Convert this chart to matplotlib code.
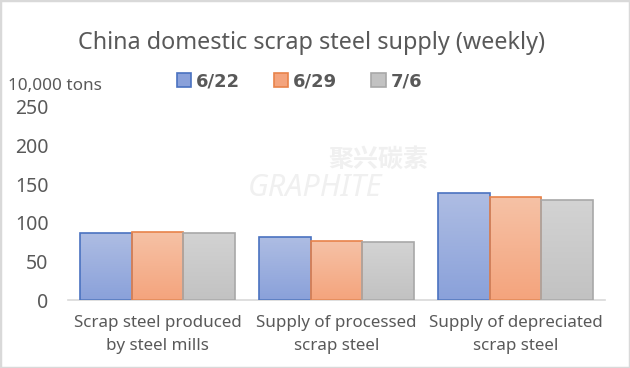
import numpy as np
import matplotlib.pyplot as plt
from matplotlib.colors import LinearSegmentedColormap
from matplotlib.patches import Rectangle

# chart data (10,000 tons)
categories = ["Scrap steel produced\nby steel mills",
              "Supply of processed\nscrap steel",
              "Supply of depreciated\nscrap steel"]
weeks = ["6/22", "6/29", "7/6"]
supply_0622 = [87, 82, 139]
supply_0629 = [88.5, 77, 134]
supply_0706 = [87, 75, 130]
series = [supply_0622, supply_0629, supply_0706]

# gradient colours (top, bottom) and edge colour per series
fills = [("#aebde3", "#8aa1da"), ("#f6c2a6", "#f4a47d"), ("#d3d3d3", "#c2c2c2")]
edges = ["#4a72c0", "#e8834a", "#a8a8a8"]

plt.rcParams['font.family'] = ['Noto Sans', 'DejaVu Sans']
text_grey = "#595959"

fig = plt.figure(figsize=(6.3, 3.68), dpi=100)
ax = fig.add_axes([68 / 630, 1 - 300 / 368, (605 - 68) / 630, (300 - 107) / 368])

x = np.arange(len(categories))
width = 0.288
grad = np.linspace(0, 1, 100).reshape(-1, 1)
for i, vals in enumerate(series):
    pos = x + (i - 1) * width
    bars = ax.bar(pos, vals, width, facecolor="none", edgecolor=edges[i],
                  linewidth=1.2, label=weeks[i], zorder=3)
    cmap = LinearSegmentedColormap.from_list("g%d" % i, [fills[i][1], fills[i][0]])
    for b in bars:
        bx, by = b.get_x(), b.get_y()
        bw, bh = b.get_width(), b.get_height()
        im = ax.imshow(grad, cmap=cmap, origin="lower", aspect="auto",
                       extent=(bx, bx + bw, by, by + bh), zorder=2)
        im.set_clip_path(b)

ax.set_xlim(-0.5, len(categories) - 0.5)
ax.set_ylim(0, 250)
ax.set_yticks([0, 50, 100, 150, 200, 250])
ax.set_xticks(x)
ax.set_xticklabels(categories, fontsize=12.2, color=text_grey, linespacing=1.55)
ax.tick_params(axis="y", labelsize=14, colors=text_grey, length=0, pad=14)
ax.tick_params(axis="x", length=0, pad=11)
for s in ["top", "right", "left"]:
    ax.spines[s].set_visible(False)
ax.spines["bottom"].set_color("#d9d9d9")
ax.spines["bottom"].set_linewidth(1.2)

fig.text(0.495, 1 - 43 / 368, "China domestic scrap steel supply (weekly)",
         ha="center", va="center", fontsize=16.8, color=text_grey)
fig.text(8 / 630, 1 - 86 / 368, "10,000 tons", ha="left", va="center",
         fontsize=12.3, color=text_grey)

# faint watermark
fig.text(0.5, 1 - 188 / 368, "GRAPHITE", ha="center", va="center", fontsize=22,
         fontweight="bold", style="italic", color="#f0f0f0", zorder=0)
fig.text(0.6, 1 - 160 / 368, "聚兴碳素", ha="center", va="center", fontsize=18,
         fontweight="bold", color="#f0f0f0", zorder=0,
         family=["Noto Sans CJK SC", "DejaVu Sans"])

leg = fig.legend(loc="center", bbox_to_anchor=(0.475, 1 - 81 / 368), ncol=3,
                 frameon=False, handlelength=0.8, handleheight=0.8,
                 handletextpad=0.25, columnspacing=1.9,
                 prop={"family": "DejaVu Sans", "size": 13, "weight": "bold"})
for t in leg.get_texts():
    t.set_color(text_grey)
for h, f, e in zip(leg.legend_handles, fills, edges):
    h.set_facecolor(f[1])
    h.set_edgecolor(e)

fig.patches.append(Rectangle((0, 0), 1, 1, transform=fig.transFigure, fill=False,
                             edgecolor="#d9d9d9", linewidth=2.5))

fig.savefig("out.png", dpi=100)
